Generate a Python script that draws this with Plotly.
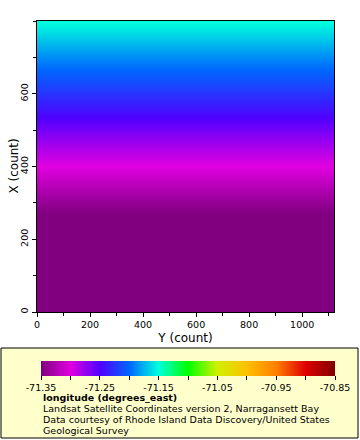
import plotly.graph_objects as go

# --- data ---
row_x_count = [0, 100, 200, 250, 300, 350, 400, 450, 500, 550, 600, 650, 700, 750, 800]
row_longitude = [-71.45, -71.41, -71.375, -71.357, -71.339, -71.320, -71.301, -71.282,
                 -71.263, -71.244, -71.225, -71.206, -71.187, -71.168, -71.149]
col_y_count = [0, 1120]
cbar_tickvals = [-71.35, -71.30, -71.25, -71.20, -71.15, -71.10, -71.05,
                 -71.00, -70.95, -70.90, -70.85]
cbar_ticktext = ["-71.35", "", "-71.25", "", "-71.15", "", "-71.05",
                 "", "-70.95", "", "-70.85"]
legend_lines = [
    "<b>longitude (degrees_east)</b>",
    "Landsat Satellite Coordinates version 2, Narragansett Bay",
    "Data courtesy of Rhode Island Data Discovery/United States",
    "Geological Survey",
]

colorscale = [
    [0.0, "#800080"], [0.1, "#E000E0"], [0.2, "#5000FF"], [0.3, "#0066FF"],
    [0.4, "#00FFDD"], [0.5, "#00FF00"], [0.6, "#D0F000"], [0.7, "#FFC000"],
    [0.8, "#FF8000"], [0.9, "#E00000"], [1.0, "#800000"],
]

z = [[v for _ in col_y_count] for v in row_longitude]

W, H = 360, 440
L, R, T, B = 37, 26, 21, 128
PW, PH = W - L - R, H - T - B


def px_x(p):
    return (p - L) / PW


def px_y(p):
    return (H - B - p) / PH


FONT = "DejaVu Sans"

fig = go.Figure()
fig.add_trace(go.Heatmap(
    x=col_y_count, y=row_x_count, z=z,
    zmin=-71.35, zmax=-70.85, colorscale=colorscale, zsmooth="best",
    colorbar=dict(
        orientation="h", x=px_x(41), xanchor="left", y=px_y(361), yanchor="top",
        len=294, lenmode="pixels", thickness=15, thicknessmode="pixels",
        outlinewidth=0, xpad=0, ypad=0, borderwidth=0,
        tickmode="array", tickvals=cbar_tickvals, ticktext=cbar_ticktext,
        ticks="outside", ticklen=4, tickcolor="black",
        tickfont=dict(family=FONT, size=9.5, color="black"),
    ),
))

fig.add_shape(type="rect", xref="paper", yref="paper",
              x0=px_x(1), x1=px_x(358), y0=px_y(348), y1=px_y(438),
              fillcolor="#FFFFCC", line=dict(color="black", width=1), layer="below")

ys = [397.5, 408.5, 419.5, 430.5]
for txt, yp in zip(legend_lines, ys):
    fig.add_annotation(text=txt, xref="paper", yref="paper", x=px_x(42), y=px_y(yp),
                       xanchor="left", yanchor="middle", showarrow=False,
                       borderpad=0,
                       font=dict(family=FONT, size=9.5, color="black"))

# y axis title placed as a rotated annotation for exact position
fig.add_annotation(text="X (count)", xref="paper", yref="paper", x=px_x(13.5), y=px_y(166),
                   xanchor="center", yanchor="middle", textangle=-90, showarrow=False,
                   font=dict(family=FONT, size=12, color="black"))

fig.update_xaxes(
    range=[0, 1120], tickvals=[0, 200, 400, 600, 800, 1000], ticks="outside", ticklen=4,
    tickcolor="black", minor=dict(dtick=100, tick0=0, ticks="outside", ticklen=3, tickcolor="black"),
    showline=True, linecolor="black", mirror=True, showgrid=False, zeroline=False,
    title=dict(text="Y (count)", font=dict(family=FONT, size=12, color="black"), standoff=4),
    tickfont=dict(family=FONT, size=9.5, color="black"),
)
fig.update_yaxes(
    range=[0, 800], tickvals=[0, 200, 400, 600], ticks="outside", ticklen=4,
    tickcolor="black", minor=dict(dtick=100, tick0=0, ticks="outside", ticklen=3, tickcolor="black"),
    tickangle=-90,
    showline=True, linecolor="black", mirror=True, showgrid=False, zeroline=False,
    tickfont=dict(family=FONT, size=9.5, color="black"),
)
fig.update_layout(
    width=W, height=H, margin=dict(l=L, r=R, t=T, b=B, autoexpand=False),
    paper_bgcolor="white", plot_bgcolor="white",
    font=dict(family=FONT, size=10, color="black"),
)
fig.write_html("out.html", config={"displayModeBar": False},
               post_script="document.body.style.margin='0';document.body.style.overflow='hidden';")
